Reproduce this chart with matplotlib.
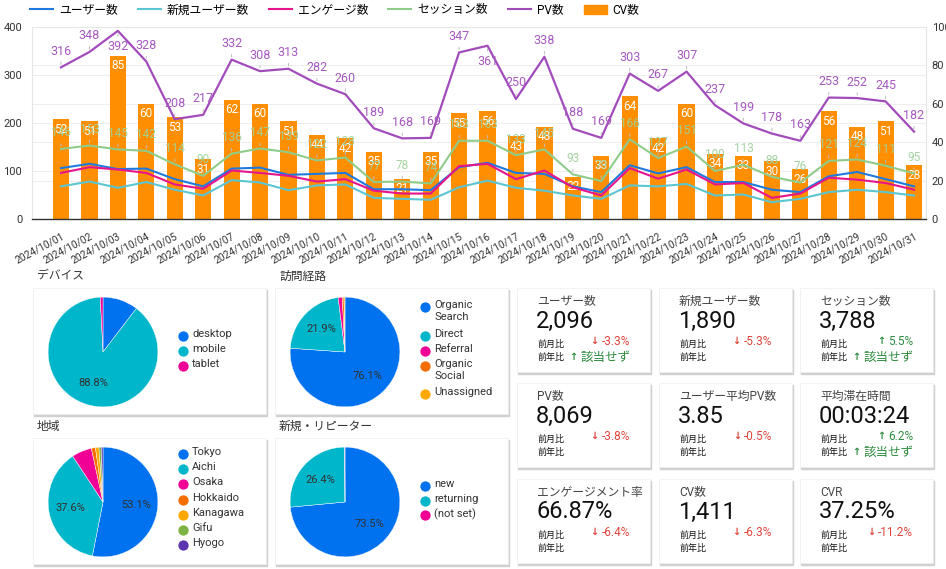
import numpy as np
import matplotlib
matplotlib.use("Agg")
import matplotlib.pyplot as plt
from matplotlib.patches import Rectangle, Patch
from matplotlib.lines import Line2D
from matplotlib.ticker import FixedLocator

plt.rcParams['font.family'] = ['Roboto', 'Noto Sans CJK JP', 'DejaVu Sans']

# ---- daily data (Oct 2024) ----
dates = ['2024/10/%02d' % d for d in range(1, 32)]
users = [106, 115, 104, 105, 83, 68, 105, 107, 92, 94, 96, 62, 62, 60, 108,
         117, 96, 94, 68, 56, 112, 95, 108, 77, 77, 61, 56, 89, 98, 83, 68]
new_users = [68, 78, 65, 77, 61, 49, 81, 76, 60, 70, 72, 44, 42, 40, 66,
             80, 65, 59, 49, 42, 70, 68, 73, 49, 51, 35, 42, 56, 61, 56, 49]
engaged = [96, 108, 103, 96, 72, 63, 101, 96, 90, 78, 83, 59, 53, 53, 110,
           115, 83, 101, 66, 49, 106, 84, 103, 72, 75, 44, 53, 86, 82, 75, 61]
sessions = [146, 153, 145, 142, 114, 90, 136, 147, 139, 122, 128, 77, 78, 74, 163,
            163, 133, 145, 93, 79, 166, 127, 151, 100, 113, 88, 76, 121, 124, 111, 95]
pv = [316, 348, 392, 328, 208, 217, 332, 308, 313, 282, 260, 189, 168, 169, 347,
      361, 250, 338, 188, 169, 303, 267, 307, 237, 199, 178, 163, 253, 252, 245, 182]
cv = [52, 51, 85, 60, 53, 31, 62, 60, 51, 44, 42, 35, 21, 35, 55,
      56, 43, 48, 22, 33, 64, 42, 60, 34, 33, 30, 26, 56, 48, 51, 28]
pv_label_below = [2, 15]

# ---- breakdowns ----
device_labels = ['desktop', 'mobile', 'tablet']
device_share = [10.4, 88.8, 0.8]
source_labels = ['Organic\nSearch', 'Direct', 'Referral', 'Organic\nSocial', 'Unassigned']
source_share = [76.1, 21.9, 1.2, 0.5, 0.3]
region_labels = ['Tokyo', 'Aichi', 'Osaka', 'Hokkaido', 'Kanagawa', 'Gifu', 'Hyogo']
region_share = [53.1, 37.6, 5.9, 1.2, 1.0, 0.7, 0.5]
visitor_labels = ['new', 'returning', '(not set)']
visitor_share = [73.5, 26.4, 0.1]

# ---- KPI scorecards ----
kpi_titles = ['ユーザー数', '新規ユーザー数', 'セッション数', 'PV数', 'ユーザー平均PV数',
              '平均滞在時間', 'エンゲージメント率', 'CV数', 'CVR']
kpi_values = ['2,096', '1,890', '3,788', '8,069', '3.85', '00:03:24', '66.87%', '1,411', '37.25%']
kpi_mom = [-3.3, -5.3, 5.5, -3.8, -0.5, 6.2, -6.4, -6.3, -11.2]
kpi_yoy = ['該当せず', '', '該当せず', '', '', '該当せず', '', '', '']

PAL = ['#0072f0', '#00b6cb', '#f10096', '#f66d00', '#ffa800', '#7cb342', '#5e35b1']
C_USERS = '#1f7ae0'
C_NEW = '#5bc6d2'
C_ENG = '#e6158c'
C_SES = '#8fcc8a'
C_PV = '#a24cbb'
C_CV = '#ff8f00'
RED = '#e0443a'
GREEN = '#2e8b3e'

W, H = 946, 569


def box(x0, y0, x1, y1):
    return [x0 / W, 1 - y1 / H, (x1 - x0) / W, (y1 - y0) / H]


fig = plt.figure(figsize=(W / 100, H / 100), dpi=100)
renderer = fig.canvas.get_renderer()

bg = fig.add_axes([0, 0, 1, 1], zorder=-1)
bg.set_xlim(0, W)
bg.set_ylim(H, 0)
bg.axis('off')

# ================= main combo chart =================
ax = fig.add_axes(box(32, 27, 926, 219))
axb = ax.twinx()
ax.set_zorder(axb.get_zorder() + 1)
ax.patch.set_visible(False)

x = np.arange(len(dates))
axb.bar(x, cv, width=0.57, color=C_CV, zorder=2)
axb.set_ylim(0, 100)
axb.set_yticks([0, 20, 40, 60, 80, 100])
axb.yaxis.set_minor_locator(FixedLocator([25, 50, 75]))
axb.grid(True, which='both', axis='y', color='#eeeeee', lw=0.8)
axb.set_axisbelow(True)
axb.tick_params(axis='y', which='both', length=0, labelsize=8, labelcolor='#333', pad=4)
for s in axb.spines.values():
    s.set_visible(False)

for i, v in enumerate(cv):
    axb.annotate(str(v), (i, v), xytext=(0, -10), textcoords='offset pixels',
                 ha='center', va='center', color='white', fontsize=8.5)

ax.plot(x, sessions, color=C_SES, lw=1.5)
ax.plot(x, new_users, color=C_NEW, lw=1.5)
ax.plot(x, users, color=C_USERS, lw=1.5)
ax.plot(x, engaged, color=C_ENG, lw=1.5)
ax.plot(x, pv, color=C_PV, lw=1.6)

for i, v in enumerate(sessions):
    ax.annotate(str(v), (i, v), xytext=(0, 16), textcoords='offset pixels',
                ha='center', va='center', color='#9fd29b', fontsize=8.5, alpha=0.95,
                arrowprops=dict(arrowstyle='-', color='#bdbdbd', lw=0.7, shrinkA=1, shrinkB=2))
for i, v in enumerate(pv):
    dy = -16 if i in pv_label_below else 16
    ax.annotate(str(v), (i, v), xytext=(0, dy), textcoords='offset pixels',
                ha='center', va='center', color='#a659bf', fontsize=9,
                arrowprops=dict(arrowstyle='-', color='#bdbdbd', lw=0.7, shrinkA=1, shrinkB=2))

ax.set_ylim(0, 400)
ax.set_xlim(-1.02, 30.42)
ax.set_yticks([0, 100, 200, 300, 400])
ax.tick_params(axis='y', length=0, labelsize=8, labelcolor='#333', pad=7)
ax.set_xticks(x, dates, rotation=28, ha='right', rotation_mode='anchor', fontsize=7.3)
ax.tick_params(axis='x', length=0, labelcolor='#333', pad=9)
ax.spines['top'].set_color('#e6e6e6')
ax.spines['left'].set_color('#e6e6e6')
ax.spines['right'].set_color('#e6e6e6')
ax.spines['bottom'].set_color('#333333')
ax.spines['bottom'].set_linewidth(1.0)

handles = [Line2D([], [], color=C_USERS, lw=1.5), Line2D([], [], color=C_NEW, lw=1.5),
           Line2D([], [], color=C_ENG, lw=1.5), Line2D([], [], color=C_SES, lw=1.5),
           Line2D([], [], color=C_PV, lw=1.5), Patch(color=C_CV)]
names = ['ユーザー数', '新規ユーザー数', 'エンゲージ数', 'セッション数', 'PV数', 'CV数']
fig.legend(handles, names, loc='center left', bbox_to_anchor=(30 / W, 1 - 10 / H),
           ncol=6, frameon=False, fontsize=8.5, handlelength=1.95, handletextpad=0.5,
           columnspacing=1.7, borderpad=0, borderaxespad=0)


# ================= cards =================
def card(x0, y0, x1, y1):
    bg.add_patch(Rectangle((x0 + 0.5, y0 + 1.5), x1 - x0, y1 - y0, color='#d0d0d0', zorder=1))
    bg.add_patch(Rectangle((x0, y0), x1 - x0, y1 - y0, facecolor='white',
                           edgecolor='#eeeeee', lw=0.5, zorder=2))


def pie_card(x0, y0, title, labels, share, leg_y, leg_step):
    bg.text(x0 + 4, y0 - 12, title, fontsize=8.5, color='#333', va='center')
    card(x0, y0, x0 + 233, y0 + 126)
    cx, cy = x0 + 70, y0 + 64
    pa = fig.add_axes(box(cx - 56, cy - 56, cx + 56, cy + 56))
    pa.pie(share, colors=PAL[:len(share)], startangle=90, counterclock=False,
           autopct=lambda p: '%.1f%%' % p if p > 15 else '', pctdistance=0.6,
           wedgeprops=dict(edgecolor='white', linewidth=0.3),
           textprops=dict(fontsize=8, color='#333'))
    pa.set_xlim(-1.02, 1.02)
    pa.set_ylim(-1.02, 1.02)
    lx = x0 + 150
    y = leg_y
    for j, lab in enumerate(labels):
        bg.scatter(lx, y, s=55, color=PAL[j], zorder=3, linewidths=0)
        bg.text(lx + 9, y - 7, lab, fontsize=8, color='#333', va='top', linespacing=1.25, zorder=3)
        y += leg_step * (1.9 if '\n' in lab else 1)


pie_card(33, 288, 'デバイス', device_labels, device_share, 336, 15)
pie_card(275, 288, '訪問経路', source_labels, source_share, 307, 15)
pie_card(33, 438, '地域', region_labels, region_share, 454, 15.2)
pie_card(275, 438, '新規・リピーター', visitor_labels, visitor_share, 486, 14.5)


# ================= KPI scorecards =================
def delta(xr, y, s, up, fs):
    col = GREEN if up else RED
    t = bg.text(xr, y, s, fontsize=fs, color=col, ha='right', va='center', zorder=3)
    left = t.get_window_extent(renderer).x0
    bg.text(left - 3, y, '↑' if up else '↓', fontsize=7, color=col, fontweight='bold',
            ha='right', va='center', zorder=3, family=['DejaVu Sans'])


col_x = [517, 659, 800]
row_y = [288, 383, 479]
for k in range(len(kpi_titles)):
    x0 = col_x[k % 3]
    y0 = row_y[k // 3]
    card(x0, y0, x0 + 133, y0 + 84)
    bg.text(x0 + 20, y0 + 13, kpi_titles[k], fontsize=8.5, color='#444', va='center', zorder=3)
    bg.text(x0 + 19, y0 + 33, kpi_values[k], fontsize=17, color='#111', va='center', zorder=3)
    bg.text(x0 + 20, y0 + 56, '前月比', fontsize=6.5, color='#111', va='center', zorder=3)
    bg.text(x0 + 20, y0 + 69, '前年比', fontsize=6.5, color='#111', va='center', zorder=3)
    m = kpi_mom[k]
    delta(x0 + 113, y0 + 53, '%.1f%%' % m, m > 0, 8.5)
    if kpi_yoy[k]:
        delta(x0 + 113, y0 + 69, kpi_yoy[k], True, 9)

fig.savefig('out.png', dpi=100, facecolor='white')
